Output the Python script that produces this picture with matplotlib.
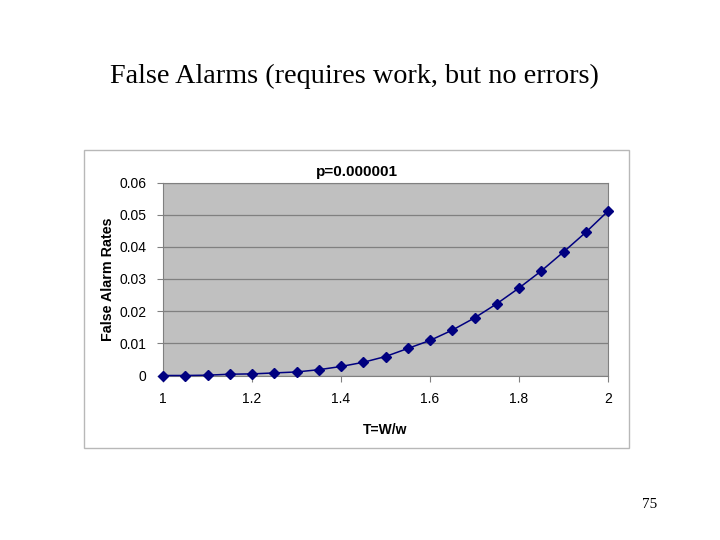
import matplotlib
matplotlib.use('Agg')
import matplotlib.pyplot as plt
from matplotlib.patches import Rectangle

# T = W/w
t_vals = [1.0, 1.05, 1.1, 1.15, 1.2, 1.25, 1.3, 1.35, 1.4, 1.45, 1.5,
          1.55, 1.6, 1.65, 1.7, 1.75, 1.8, 1.85, 1.9, 1.95, 2.0]
# false alarm rates, p = 0.000001
fa_rates = [0.0, 0.0, 0.0001, 0.0004, 0.0005, 0.0008, 0.0011, 0.0018, 0.0028,
            0.0041, 0.0059, 0.0084, 0.0109, 0.0141, 0.0179, 0.0223, 0.0272,
            0.0325, 0.0384, 0.0445, 0.0511]
x_ticks = [1, 1.2, 1.4, 1.6, 1.8, 2]
x_ticklabels = ['1', '1.2', '1.4', '1.6', '1.8', '2']
y_ticks = [0, 0.01, 0.02, 0.03, 0.04, 0.05, 0.06]
y_ticklabels = ['0', '0.01', '0.02', '0.03', '0.04', '0.05', '0.06']

sans = ['Liberation Sans', 'DejaVu Sans']
serif = ['Liberation Serif', 'DejaVu Serif']

fig = plt.figure(figsize=(7.2, 5.4), dpi=100)
fig.patch.set_facecolor('white')

# slide title
fig.text(354.5 / 720, 1 - 76 / 540, 'False Alarms (requires work, but no errors)',
         ha='center', va='center', fontsize=20.3, family=serif)

# chart frame
fig.patches.append(Rectangle((84 / 720, 92 / 540), 545 / 720, 298 / 540,
                             transform=fig.transFigure, fill=False,
                             edgecolor='#b8b8b8', linewidth=1.0))

ax = fig.add_axes([163 / 720, 164.5 / 540, 445 / 720, 193 / 540])
ax.set_facecolor('#c0c0c0')
ax.plot(t_vals, fa_rates, color='#000080', linewidth=1.1,
        marker='D', markersize=5, markerfacecolor='#000080',
        markeredgecolor='#000080', clip_on=False, zorder=3)

ax.set_xlim(1, 2)
ax.set_ylim(0, 0.06)
ax.set_xticks(x_ticks)
ax.set_xticklabels(x_ticklabels, family=sans, fontsize=10)
ax.set_yticks(y_ticks)
ax.set_yticklabels(y_ticklabels, family=sans, fontsize=10)
ax.tick_params(axis='both', direction='out', length=4, width=0.8,
               color='#808080', pad=8)
ax.grid(axis='y', color='#808080', linewidth=0.9)
ax.set_axisbelow(True)
for side in ['top', 'right', 'left', 'bottom']:
    ax.spines[side].set_color('#808080')

ax.set_xlabel('T=W/w', family=sans, fontsize=10, fontweight='bold', labelpad=12)
ax.set_ylabel('False Alarm Rates', family=sans, fontsize=10.3, fontweight='bold',
              labelpad=3)

fig.text(356.5 / 720, 1 - 172 / 540, 'p=0.000001', ha='center', va='center',
         family=sans, fontsize=11, fontweight='bold')

# page number
fig.text(650 / 720, 1 - 505 / 540, '75', ha='center', va='center',
         family=serif, fontsize=11)

fig.savefig('out.png', dpi=100)
